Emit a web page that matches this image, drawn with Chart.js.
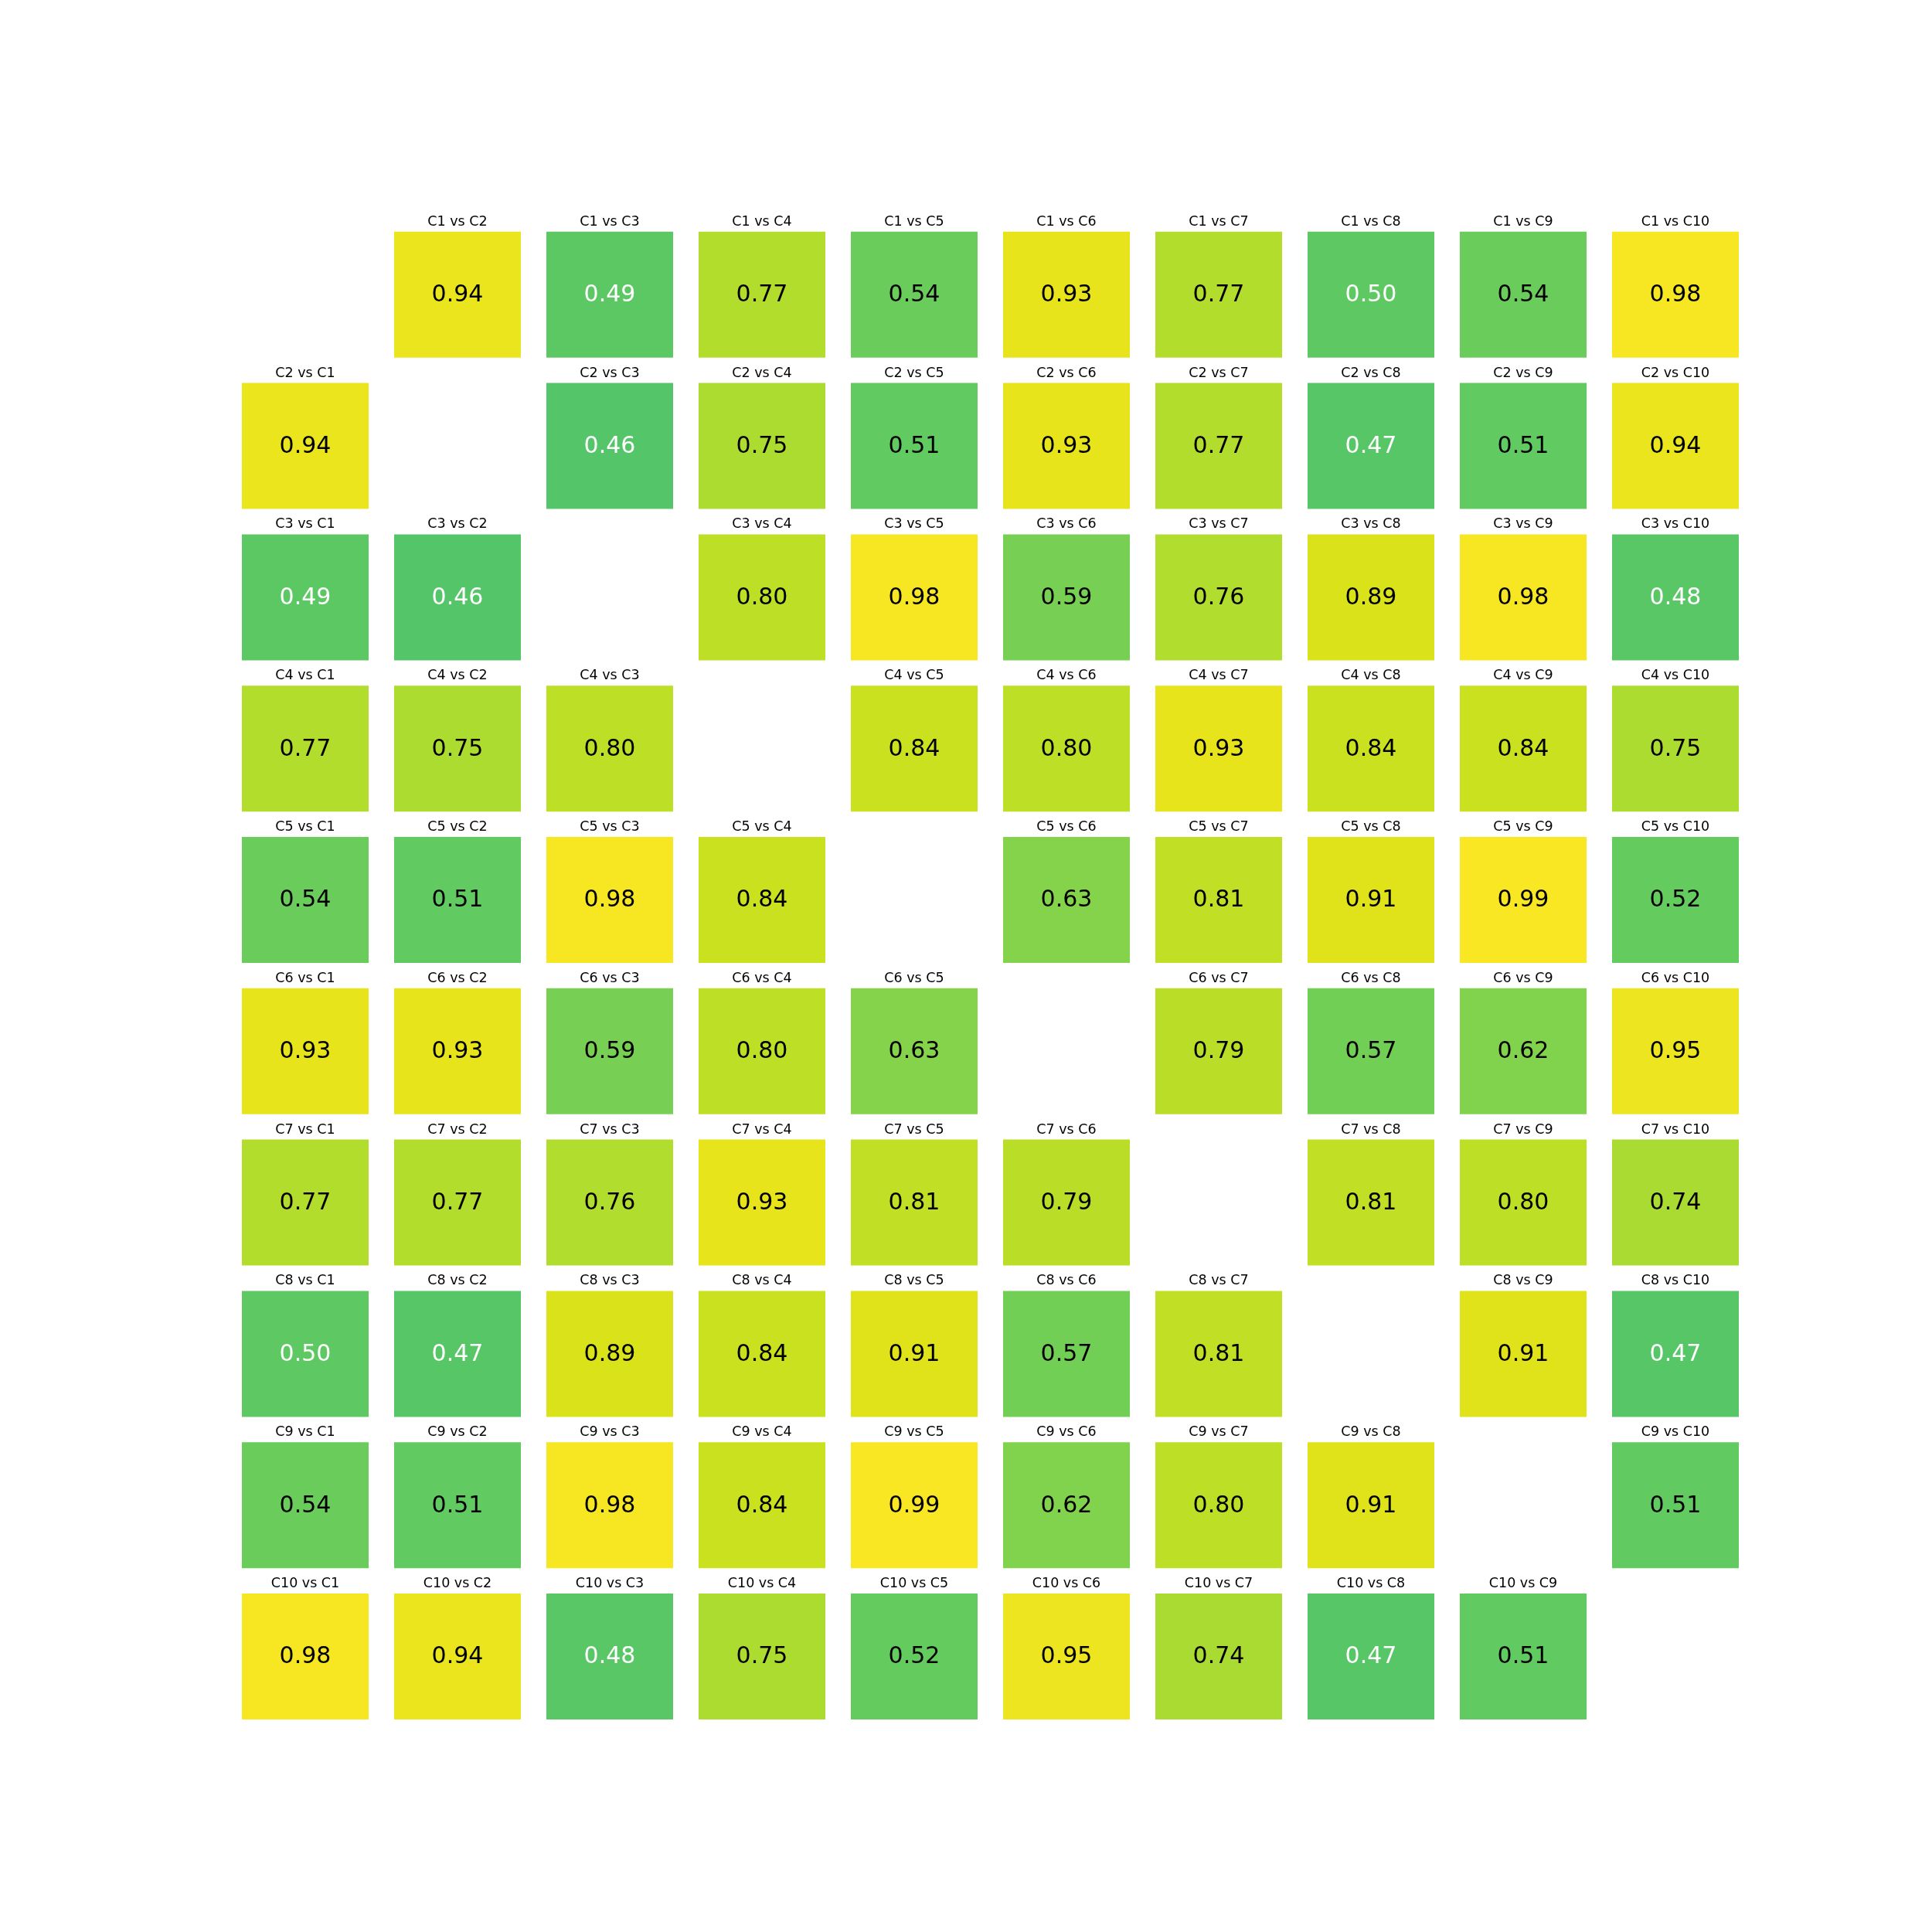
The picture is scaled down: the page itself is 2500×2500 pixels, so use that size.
<!DOCTYPE html>
<html>
<head>
<meta charset="utf-8">
<title>Pairwise similarity grid</title>
<script src="https://cdn.jsdelivr.net/npm/chart.js@4/dist/chart.umd.min.js"></script>
<style>
  html, body { margin: 0; padding: 0; background: #fff; }
  #grid { display: block; }
</style>
</head>
<body>
<canvas id="grid" width="2500" height="2500"></canvas>
<script>
const labels = ["C1", "C2", "C3", "C4", "C5", "C6", "C7", "C8", "C9", "C10"];

// row i = Ci compared with each column; null on the diagonal
const scores = [
  [null, 0.94, 0.49, 0.77, 0.54, 0.93, 0.77, 0.50, 0.54, 0.98],
  [0.94, null, 0.46, 0.75, 0.51, 0.93, 0.77, 0.47, 0.51, 0.94],
  [0.49, 0.46, null, 0.80, 0.98, 0.59, 0.76, 0.89, 0.98, 0.48],
  [0.77, 0.75, 0.80, null, 0.84, 0.80, 0.93, 0.84, 0.84, 0.75],
  [0.54, 0.51, 0.98, 0.84, null, 0.63, 0.81, 0.91, 0.99, 0.52],
  [0.93, 0.93, 0.59, 0.80, 0.63, null, 0.79, 0.57, 0.62, 0.95],
  [0.77, 0.77, 0.76, 0.93, 0.81, 0.79, null, 0.81, 0.80, 0.74],
  [0.50, 0.47, 0.89, 0.84, 0.91, 0.57, 0.81, null, 0.91, 0.47],
  [0.54, 0.51, 0.98, 0.84, 0.99, 0.62, 0.80, 0.91, null, 0.51],
  [0.98, 0.94, 0.48, 0.75, 0.52, 0.95, 0.74, 0.47, 0.51, null],
];

const vmin = -1;
const vmax = 1;
const cellFrac = 0.8325; // share of each slot taken by the square, rest is title room

// viridis stops (position, rgb)
const viridis = [
  [0.00, [68, 1, 84]],
  [0.10, [72, 36, 117]],
  [0.20, [65, 68, 135]],
  [0.30, [53, 95, 141]],
  [0.40, [42, 120, 142]],
  [0.50, [33, 145, 140]],
  [0.55, [30, 156, 137]],
  [0.60, [34, 168, 132]],
  [0.65, [47, 180, 124]],
  [0.70, [68, 191, 112]],
  [0.75, [94, 201, 98]],
  [0.80, [122, 209, 81]],
  [0.85, [157, 217, 59]],
  [0.90, [189, 223, 38]],
  [0.95, [221, 227, 24]],
  [1.00, [253, 231, 37]],
];

function colorFor(v) {
  const t = Math.min(1, Math.max(0, (v - vmin) / (vmax - vmin)));
  for (let i = 1; i < viridis.length; i++) {
    const [p1, c1] = viridis[i];
    const [p0, c0] = viridis[i - 1];
    if (t <= p1) {
      const f = (t - p0) / (p1 - p0);
      const rgb = c0.map((c, k) => Math.round(c + (c1[k] - c) * f));
      return `rgb(${rgb.join(",")})`;
    }
  }
  return "rgb(253,231,37)";
}

const datasets = scores.map((row, r) => ({
  label: labels[r],
  data: row.map((v) => (v === null ? null : [r + 1 - cellFrac, r + 1])),
  backgroundColor: row.map((v) => (v === null ? "rgba(0,0,0,0)" : colorFor(v))),
  borderWidth: 0,
  grouped: false,
  categoryPercentage: 1,
  barPercentage: cellFrac,
}));

const cellText = {
  id: "cellText",
  afterDatasetsDraw(chart) {
    const ctx = chart.ctx;
    ctx.save();
    ctx.textAlign = "center";
    chart.data.datasets.forEach((ds, r) => {
      const meta = chart.getDatasetMeta(r);
      meta.data.forEach((bar, c) => {
        const v = scores[r][c];
        if (v === null) return;
        const top = Math.min(bar.y, bar.base);
        const bottom = Math.max(bar.y, bar.base);
        ctx.fillStyle = "#000";
        ctx.font = "17.5px 'DejaVu Sans'";
        ctx.textBaseline = "alphabetic";
        ctx.fillText(`${labels[r]} vs ${labels[c]}`, bar.x, top - 8);
        ctx.fillStyle = v <= 0.5 ? "#fff" : "#000";
        ctx.font = "30px 'DejaVu Sans'";
        ctx.textBaseline = "alphabetic";
        ctx.fillText(v.toFixed(2), bar.x, (top + bottom) / 2 + 9);
      });
    });
    ctx.restore();
  },
};

new Chart(document.getElementById("grid"), {
  type: "bar",
  data: { labels, datasets },
  options: {
    responsive: false,
    animation: false,
    layout: { padding: { left: 296.5, right: 233.5, top: 267, bottom: 275 } },
    plugins: { legend: { display: false }, tooltip: { enabled: false } },
    scales: {
      x: { display: false },
      y: { display: false, min: 0, max: 10, reverse: true },
    },
  },
  plugins: [cellText],
});
</script>
</body>
</html>
